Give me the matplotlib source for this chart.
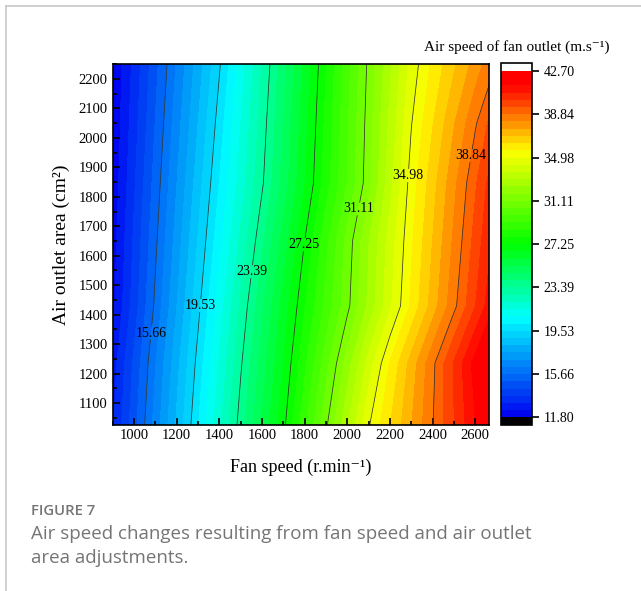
import numpy as np
import matplotlib
matplotlib.use("Agg")
import matplotlib.pyplot as plt
from matplotlib.colors import LinearSegmentedColormap
from matplotlib.ticker import MultipleLocator
from matplotlib.lines import Line2D

plt.rcParams['font.family'] = ['Liberation Serif', 'DejaVu Serif']
plt.rcParams['mathtext.fontset'] = 'custom'
plt.rcParams['mathtext.rm'] = 'Liberation Serif'
plt.rcParams['mathtext.it'] = 'Liberation Serif:italic'

# ---- data ----
fan_speed = [900, 1000, 1100, 1200, 1300, 1400, 1500, 1600, 1700, 1800,
             1900, 2000, 2100, 2200, 2300, 2400, 2500, 2600, 2700]
outlet_area = [1027, 1235, 1430, 1650, 1846, 2050, 2250]
air_speed = [
    [12.99, 14.77, 16.55, 18.33, 20.12, 21.92, 23.69, 25.37, 27.05, 28.99,
     30.97, 32.94, 34.90, 36.22, 37.51, 38.80, 40.09, 41.38, 42.67],
    [12.75, 14.50, 16.26, 18.01, 19.76, 21.52, 23.29, 24.95, 26.62, 28.37,
     30.19, 32.04, 33.95, 35.67, 37.17, 38.67, 40.18, 41.68, 43.18],
    [12.27, 14.03, 15.80, 17.57, 19.34, 21.09, 22.85, 24.54, 26.20, 27.82,
     29.37, 30.91, 32.55, 34.20, 35.75, 37.20, 38.65, 40.10, 41.55],
    [12.13, 13.83, 15.52, 17.22, 18.92, 20.59, 22.24, 23.89, 25.57, 27.25,
     28.97, 30.70, 32.35, 33.97, 35.51, 36.91, 38.31, 39.71, 41.11],
    [11.99, 13.63, 15.28, 16.93, 18.58, 20.18, 21.73, 23.28, 24.92, 26.57,
     28.21, 29.84, 31.53, 33.46, 35.27, 36.64, 38.02, 39.39, 40.76],
    [11.86, 13.44, 15.04, 16.64, 18.23, 19.83, 21.44, 23.04, 24.69, 26.36,
     28.04, 29.72, 31.41, 33.18, 34.94, 36.22, 37.49, 38.75, 40.02],
    [11.85, 13.26, 14.81, 16.36, 17.90, 19.45, 21.10, 22.76, 24.44, 26.14,
     27.85, 29.56, 31.26, 32.91, 34.57, 35.76, 36.80, 37.83, 38.87],
]
level_labels = ["11.80", "15.66", "19.53", "23.39", "27.25", "31.11", "34.98", "38.84", "42.70"]
x_ticks = [1000, 1200, 1400, 1600, 1800, 2000, 2200, 2400, 2600]
y_ticks = [1100, 1200, 1300, 1400, 1500, 1600, 1700, 1800, 1900, 2000, 2100, 2200]
# contour label anchor points (fan speed, area)
label_pos = [(1084, 1337), (1329, 1430), (1563, 1545), (1807, 1637),
             (2060, 1758), (2302, 1872), (2571, 1940)]

major_levels = [float(s) for s in level_labels]
fill_levels = []
for a, b in zip(major_levels[:-1], major_levels[1:]):
    fill_levels.extend(np.linspace(a, b, 7)[:-1])
fill_levels.append(major_levels[-1])

X, Y = np.meshgrid(fan_speed, outlet_area)
Z = np.array(air_speed)

cmap = LinearSegmentedColormap.from_list(
    'origin_rainbow',
    [(0.0, '#0000f0'), (0.29, '#00ffff'), (0.5, '#00ff00'), (0.77, '#ffff00'),
     (0.96, '#ff0000'), (1.0, '#ff0000')])
cmap = cmap.with_extremes(under='black', over='white')

fig = plt.figure(figsize=(6.41, 5.91), dpi=100)
W, H = 641, 591
def fx(px): return px / W
def fy(py): return 1 - py / H

ax = fig.add_axes([fx(112.7), fy(424.5), fx(489) - fx(112.7), fy(64.3) - fy(424.5)])
cf = ax.contourf(X, Y, Z, levels=fill_levels, cmap=cmap, extend='both')
cs = ax.contour(X, Y, Z, levels=major_levels[1:-1], colors='#333333', linewidths=0.55)
fmt = {lv: s for lv, s in zip(major_levels, level_labels)}
texts = ax.clabel(cs, levels=major_levels[1:-1], fmt=fmt, fontsize=10, inline=True,
                  inline_spacing=-9, manual=label_pos, colors='black')
for t in texts:
    t.set_rotation(0)

ax.set_xlim(900, 2665)
ax.set_ylim(1027, 2250)
ax.set_xticks(x_ticks)
ax.set_yticks(y_ticks)
ax.xaxis.set_minor_locator(MultipleLocator(100))
ax.yaxis.set_minor_locator(MultipleLocator(50))
ax.tick_params(which='both', direction='in', top=False, right=False, labelsize=10.5,
               width=1.2)
ax.tick_params(which='major', length=5)
ax.tick_params(which='minor', length=3)
for sp in ax.spines.values():
    sp.set_linewidth(1.2)
ax.set_xlabel('Fan speed (r.min⁻¹)', fontsize=13, labelpad=12)
ax.set_ylabel('Air outlet area (cm²)', fontsize=14, labelpad=6)

cax = fig.add_axes([fx(501), fy(425), fx(531.7) - fx(501), fy(63.3) - fy(425)])
cb = fig.colorbar(cf, cax=cax, ticks=major_levels, extendrect=True, extendfrac=0.022,
                  drawedges=False)
cb.ax.set_yticklabels(level_labels)
cb.ax.tick_params(labelsize=10, length=5, width=1.2, direction='out')
cb.outline.set_linewidth(1.2)
cb.ax.minorticks_off()
fig.text(fx(516.5), fy(47), 'Air speed of fan outlet (m.s⁻¹)',
         ha='center', va='center', fontsize=11)

# page frame lines
fig.add_artist(Line2D([fx(6), 1.0], [fy(6), fy(6)], color='#c8c8c8', lw=1.2))
fig.add_artist(Line2D([fx(6), fx(6)], [fy(6), 0.0], color='#c8c8c8', lw=1.2))

# caption
fig.text(fx(31), fy(511), 'FIGURE 7', fontsize=10.7, color='#757575',
         family='Open Sans', weight='semibold', va='center', ha='left')
fig.text(fx(31), fy(534), 'Air speed changes resulting from fan speed and air outlet',
         fontsize=13.5, color='#757575', family='Open Sans', va='center', ha='left')
fig.text(fx(31), fy(558), 'area adjustments.',
         fontsize=13.5, color='#757575', family='Open Sans', va='center', ha='left')

fig.savefig('out.png', dpi=100)
